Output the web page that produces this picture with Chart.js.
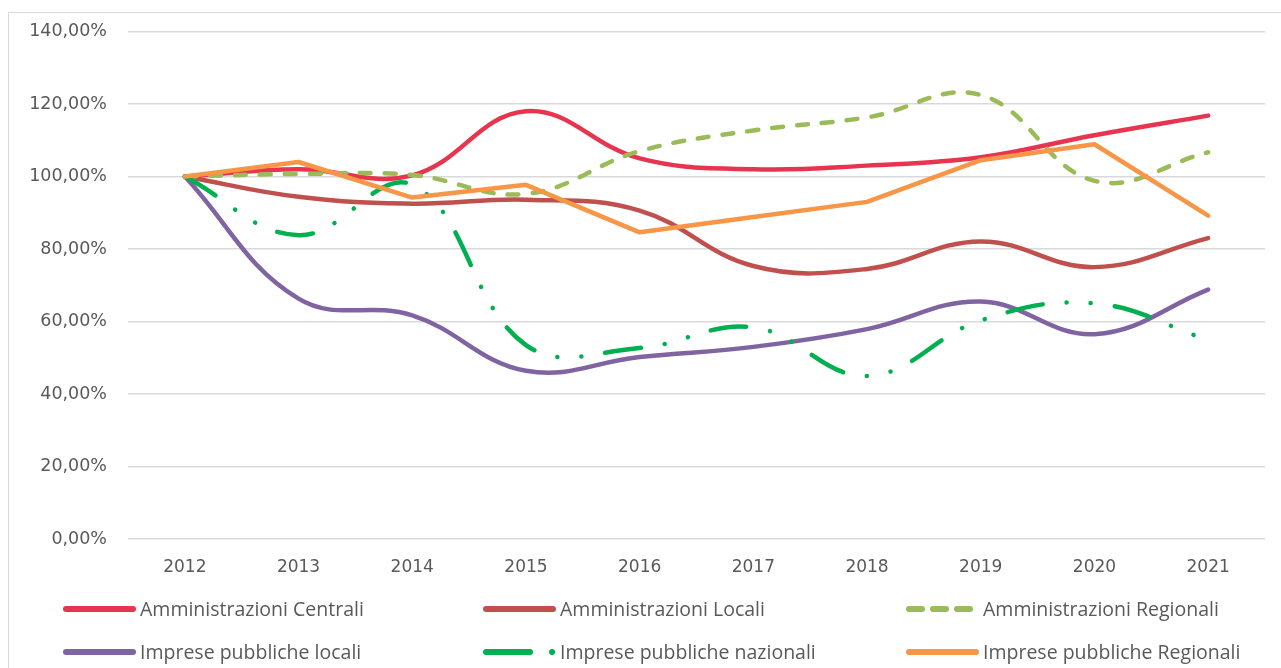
<!DOCTYPE html>
<html>
<head>
<meta charset="utf-8">
<script src="https://cdn.jsdelivr.net/npm/chart.js@4.4.1/dist/chart.umd.min.js"></script>
<style>
  html,body{margin:0;padding:0;background:#fff;}
  #wrap{position:relative;width:1281px;height:668px;overflow:hidden;}
  #frame{position:absolute;left:8px;top:12px;width:1300px;height:700px;border:1px solid #d9d9d9;box-sizing:border-box;}
  #c{position:absolute;left:0;top:0;}
  .leg{position:absolute;display:flex;align-items:center;font-family:"Open Sans",sans-serif;font-size:19.5px;color:#595959;white-space:nowrap;}
  .leg svg{margin-right:4px;}
</style>
</head>
<body>
<div id="wrap">
  <div id="frame"></div>
  <canvas id="c" width="1281" height="668"></canvas>
  <div id="legend"></div>
</div>
<script>
// Dati
const anni = ['2012','2013','2014','2015','2016','2017','2018','2019','2020','2021'];
const ammCentrali   = [100, 102.0, 100.3, 118.0, 105.0, 102.0, 103.0, 105.3, 111.4, 116.8];
const ammLocali     = [100, 94.4, 92.5, 93.6, 90.6, 75.3, 74.5, 82.1, 75.0, 83.0];
const ammRegionali  = [100, 100.7, 100.4, 95.2, 107.0, 112.7, 116.3, 122.5, 98.8, 106.7];
const impLocali     = [100, 66.3, 61.7, 46.4, 50.2, 53.0, 57.9, 65.5, 56.5, 68.8];
const impNazionali  = [100, 83.8, 97.7, 53.5, 52.7, 58.4, 45.0, 60.3, 65.0, 54.9];
const impRegionali  = [100, 104.0, 94.2, 97.7, 84.6, 88.8, 93.0, 104.5, 108.9, 89.2];
const yTicks = [0, 20, 40, 60, 80, 100, 120, 140];

const serie = [
  {label:'Amministrazioni Centrali', data:ammCentrali, color:'#E8354F', dash:[], tension:0.4},
  {label:'Amministrazioni Locali', data:ammLocali, color:'#C0504D', dash:[], tension:0.4},
  {label:'Amministrazioni Regionali', data:ammRegionali, color:'#9BBB59', dash:[11,14], tension:0.4},
  {label:'Imprese pubbliche locali', data:impLocali, color:'#8064A2', dash:[], tension:0.4},
  {label:'Imprese pubbliche nazionali', data:impNazionali, color:'#00B050', dash:[36,24,0.1,24,0.1,24], tension:0.4},
  {label:'Imprese pubbliche Regionali', data:impRegionali, color:'#F79646', dash:[], tension:0}
];

const fmt = v => v.toFixed(2).replace('.', ',') + '%';

new Chart(document.getElementById('c').getContext('2d'), {
  type:'line',
  data:{
    labels: anni,
    datasets: serie.map((s,i)=>({
      label:s.label,
      data:s.data,
      borderColor:s.color,
      backgroundColor:s.color,
      borderWidth:4.5,
      borderDash:s.dash,
      borderCapStyle:'round',
      borderJoinStyle:'round',
      pointRadius:0,
      tension:s.tension,
      fill:false,
      order: serie.length - i
    }))
  },
  options:{
    responsive:false,
    animation:false,
    layout:{padding:{left:0, top:26, right:16, bottom:89}},
    plugins:{legend:{display:false}, tooltip:{enabled:false}},
    scales:{
      x:{
        offset:true,
        grid:{display:false},
        border:{display:false},
        ticks:{color:'#595959', font:{family:'DejaVu Sans', size:17}, padding:10, maxRotation:0},
        afterFit(scale){ scale.height = 40; }
      },
      y:{
        min:0, max:140,
        afterBuildTicks(scale){ scale.ticks = yTicks.map(v=>({value:v})); },
        grid:{color:'#d9d9d9', lineWidth:1.5, drawTicks:false},
        border:{display:false},
        ticks:{color:'#595959', font:{family:'DejaVu Sans', size:17.5}, padding:21, callback:v=>fmt(v)},
        afterFit(scale){ scale.width = 128; }
      }
    }
  }
});

// Legenda HTML (3 colonne, 2 righe)
const legPos = [[62,609],[482,609],[905,609],[62,652],[482,652],[905,652]];
const leg = document.getElementById('legend');
serie.forEach((s,i)=>{
  const d = document.createElement('div');
  d.className = 'leg';
  d.style.left = legPos[i][0] + 'px';
  d.style.top = (legPos[i][1] - 14) + 'px';
  let dash = '';
  if (i === 2) dash = 'stroke-dasharray="13 11"';
  if (i === 4) dash = 'stroke-dasharray="44 22 0.1 40"';
  d.innerHTML = '<svg width="74" height="12"><line x1="4" y1="6" x2="71" y2="6" stroke="' + s.color +
    '" stroke-width="6" stroke-linecap="round" ' + dash + '/></svg><span>' + s.label + '</span>';
  leg.appendChild(d);
});
</script>
</body>
</html>
